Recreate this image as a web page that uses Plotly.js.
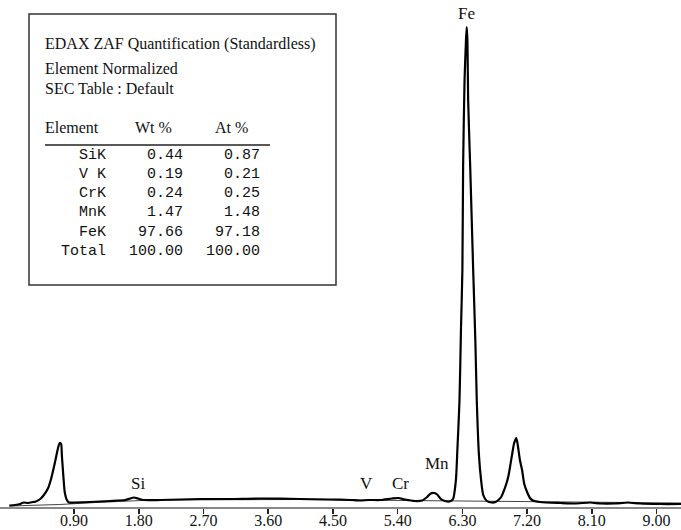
<!DOCTYPE html>
<html>
<head>
<meta charset="utf-8">
<script src="https://cdn.plot.ly/plotly-3.0.1.min.js"></script>
<style>html,body{margin:0;padding:0;background:#fff;}#chart{width:681px;height:530px;}</style>
</head>
<body>
<div id="chart"></div>
<script>
// Spectrum (energy in keV, counts)
const energy = [0.00,0.08,0.15,0.20,0.26,0.33,0.37,0.43,0.48,0.54,0.58,0.62,0.65,0.68,0.70,0.72,0.73,0.75,0.77,0.80,0.83,0.91,1.12,1.40,1.61,1.68,1.73,1.79,1.86,2.10,2.65,3.07,3.49,4.04,4.46,4.74,4.88,4.99,5.16,5.32,5.41,5.50,5.64,5.74,5.81,5.86,5.91,5.95,6.00,6.06,6.12,6.17,6.21,6.23,6.26,6.28,6.30,6.31,6.33,6.35,6.36,6.37,6.38,6.41,6.43,6.45,6.48,6.50,6.53,6.56,6.59,6.64,6.71,6.76,6.80,6.84,6.87,6.91,6.94,6.96,6.99,7.02,7.05,7.07,7.10,7.13,7.16,7.20,7.24,7.28,7.38,7.66,7.87,8.08,8.22,8.42,8.60,8.77,9.05,9.34];
const counts = [15,20,30,45,40,50,55,80,120,190,280,400,500,600,640,630,520,320,150,70,45,45,50,60,70,85,95,85,70,70,80,80,85,80,75,70,65,70,70,85,90,75,60,65,100,135,140,125,80,60,55,80,270,570,1070,1770,2370,3400,4270,4670,4800,4670,4070,3370,2870,2370,1670,1070,520,270,120,60,45,50,70,100,150,230,310,390,520,640,690,620,470,370,230,150,90,65,50,40,35,45,35,35,45,35,30,30];
// Fitted background line
const bgEnergy = [0.00,0.70,1.20,2.00,4.00,5.50,6.40,7.00,9.34];
const bgCounts = [10,25,45,70,75,65,55,50,40];
const tickVals = [0.90,1.80,2.70,3.60,4.50,5.40,6.30,7.20,8.10,9.00];
// Peak labels
const peakNames = ['Si','V','Cr','Mn','Fe'];
const peakEnergy = [1.79,4.97,5.44,5.94,6.36];
const peakLabelCounts = [240,240,240,440,4940];
// Quantification table
const headerLines = ['EDAX ZAF Quantification (Standardless)','Element Normalized','SEC Table : Default'];
const colHeads = ['Element','Wt %','At %'];
const elements = ['SiK','V K','CrK','MnK','FeK','Total'];
const wtPct = ['0.44','0.19','0.24','1.47','97.66','100.00'];
const atPct = ['0.87','0.21','0.25','1.48','97.18','100.00'];

const W = 681, T = 7, PH = 500;
const px = x => x / W;
const py = y => (T + PH - y) / PH;
const serif = 'Liberation Serif, Times New Roman, serif';
const mono = 'Liberation Mono, Courier New, monospace';

const annotations = [];
peakNames.forEach((n, i) => annotations.push({
  x: peakEnergy[i], y: peakLabelCounts[i], xref: 'x', yref: 'y', text: n, showarrow: false,
  xanchor: 'center', yanchor: 'middle', font: {family: serif, size: 17, color: '#111'}
}));
const headY = [44, 68, 88];
headerLines.forEach((t, i) => annotations.push({
  x: px(43), y: py(headY[i]), xref: 'paper', yref: 'paper', text: t, showarrow: false,
  xanchor: 'left', yanchor: 'middle', font: {family: serif, size: 16, color: '#111'}
}));
const colX = [43, 133, 213];
colHeads.forEach((t, i) => annotations.push({
  x: px(colX[i]), y: py(127), xref: 'paper', yref: 'paper', text: t, showarrow: false,
  xanchor: 'left', yanchor: 'middle', font: {family: serif, size: 16, color: '#111'}
}));
const rowY0 = 155, rowDy = 19.3;
elements.forEach((e, i) => {
  const y = py(rowY0 + i * rowDy);
  [[e, 108], [wtPct[i], 185], [atPct[i], 262]].forEach(([t, xr]) => annotations.push({
    x: px(xr), y: y, xref: 'paper', yref: 'paper', text: t, showarrow: false,
    xanchor: 'right', yanchor: 'middle', font: {family: mono, size: 15, color: '#111'}
  }));
});

const shapes = [
  {type: 'rect', xref: 'paper', yref: 'paper', x0: px(29), x1: px(336), y0: py(285), y1: py(14),
   line: {color: '#333', width: 1.5}, fillcolor: 'rgba(0,0,0,0)'},
  {type: 'line', xref: 'paper', yref: 'paper', x0: px(45), x1: px(270), y0: py(145), y1: py(145),
   line: {color: '#222', width: 1.5}}
];

const traces = [
  {x: bgEnergy, y: bgCounts, type: 'scatter', mode: 'lines', line: {color: '#444', width: 1}, hoverinfo: 'skip'},
  {x: energy, y: counts, type: 'scatter', mode: 'lines', line: {color: '#000', width: 2.2, shape: 'spline', smoothing: 0.6}}
];

const layout = {
  width: 681, height: 530,
  margin: {l: 0, r: 0, t: T, b: 23, pad: 0},
  paper_bgcolor: '#fff', plot_bgcolor: '#fff',
  showlegend: false,
  xaxis: {range: [-0.13, 9.34], showgrid: false, zeroline: false, showline: true, linecolor: '#888', linewidth: 2,
          ticks: 'outside', ticklen: 5, tickwidth: 1.5, tickcolor: '#222', tickvals: tickVals, tickformat: '.2f',
          ticklabelstandoff: -7,
          tickfont: {family: serif, size: 16, color: '#111'}},
  yaxis: {range: [0, 5000], visible: false, showgrid: false, zeroline: false},
  annotations: annotations,
  shapes: shapes
};
Plotly.newPlot('chart', traces, layout, {staticPlot: true, displayModeBar: false});
</script>
</body>
</html>
